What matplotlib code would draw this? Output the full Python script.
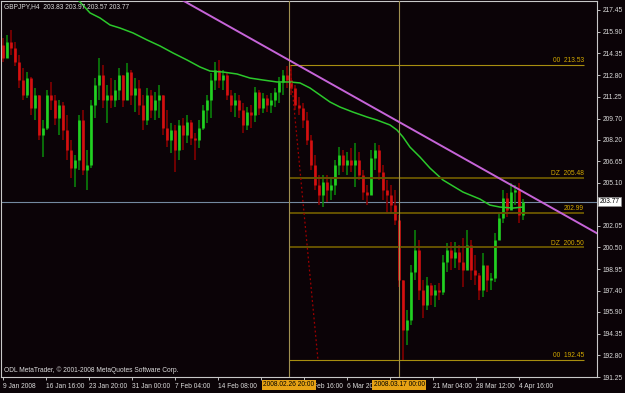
import matplotlib
matplotlib.use("Agg")
import matplotlib.pyplot as plt
import matplotlib.transforms as mtransforms

plt.rcParams['font.family'] = ['Liberation Sans', 'DejaVu Sans']

# GBPJPY H4, each candle here groups 4 H4 bars
BAR_STEP = 4
first_open = 214.95
highs = [215.45, 215.66, 216.02, 215.16, 214.24, 213.31, 213.02, 212.66, 211.88, 211.38,
         209.59, 211.74, 212.31, 211.38, 211.02, 210.88, 209.95, 208.16, 207.09, 209.95,
         210.31, 207.45, 211.02, 212.59, 214.02, 213.52, 212.09, 212.59, 212.45, 213.31,
         212.81, 213.66, 213.16, 212.59, 212.45, 211.38, 211.88, 211.74, 211.59, 212.09,
         211.38, 210.31, 209.38, 209.24, 209.59, 209.74, 209.95, 209.59, 208.66, 209.59,
         210.66, 211.38, 212.95, 213.74, 213.88, 213.16, 213.02, 211.74, 211.52, 211.38,
         210.81, 210.52, 210.66, 211.95, 211.74, 211.52, 211.38, 211.52, 211.88, 212.66,
         213.16, 213.45, 213.53, 212.09, 211.24, 210.81, 210.16, 208.52, 207.09, 205.66,
         205.66, 205.66, 205.45, 206.74, 207.66, 207.45, 207.31, 207.59, 207.95, 207.31,
         206.02, 204.95, 207.45, 207.95, 207.81, 206.38, 205.31, 204.95, 204.59, 202.81,
         198.16, 196.02, 199.24, 201.74, 201.02, 198.16, 198.38, 197.95, 197.81, 197.95,
         199.95, 200.81, 200.88, 200.88, 200.66, 201.16, 201.74, 201.02, 199.95, 198.66,
         200.09, 199.02, 198.66, 201.52, 202.95, 204.59, 204.38, 205.09, 204.95, 205.09,
         203.97]
lows = [213.74, 214.02, 214.24, 213.45, 211.88, 211.02, 211.16, 209.95, 209.59, 208.16,
        206.95, 208.88, 210.31, 209.24, 208.52, 208.16, 206.74, 205.45, 204.81, 206.02,
        205.66, 204.59, 206.20, 209.74, 211.02, 210.45, 209.38, 210.45, 210.52, 211.02,
        210.52, 211.02, 210.66, 210.16, 209.95, 208.88, 209.24, 209.74, 209.59, 209.74,
        208.52, 207.66, 207.24, 205.88, 206.74, 207.45, 207.95, 207.81, 206.74, 207.59,
        208.88, 209.38, 209.74, 211.74, 211.88, 211.74, 211.02, 210.16, 209.81, 209.74,
        208.66, 208.88, 209.02, 209.45, 209.95, 210.09, 210.16, 210.09, 210.52, 210.81,
        211.38, 211.88, 211.38, 210.31, 209.95, 209.02, 207.81, 206.02, 204.59, 203.52,
        203.38, 203.74, 203.88, 204.24, 205.66, 205.88, 205.66, 205.88, 204.81, 205.31,
        203.88, 203.52, 204.24, 206.02, 205.31, 203.88, 202.95, 202.95, 202.09, 197.66,
        192.45, 193.52, 194.95, 198.16, 196.74, 195.45, 196.02, 196.38, 196.24, 196.74,
        197.09, 198.74, 198.88, 199.02, 198.88, 197.66, 199.02, 198.16, 197.81, 196.74,
        196.95, 197.31, 197.45, 198.02, 201.02, 202.24, 202.66, 203.16, 203.52, 202.24,
        202.45]
closes = [214.02, 215.16, 214.74, 213.74, 212.45, 211.38, 212.59, 210.45, 211.38, 208.52,
          209.02, 211.38, 211.02, 209.74, 210.66, 208.88, 207.45, 206.16, 206.74, 209.59,
          206.02, 206.38, 210.66, 212.09, 212.81, 211.02, 211.38, 211.02, 211.74, 212.81,
          211.02, 213.02, 211.38, 211.88, 210.66, 209.59, 211.38, 210.31, 211.02, 211.38,
          209.02, 208.16, 208.88, 207.45, 209.24, 208.52, 209.45, 208.31, 208.16, 209.02,
          210.31, 211.02, 212.45, 213.16, 212.45, 212.81, 211.38, 210.66, 211.02, 210.31,
          209.24, 210.16, 209.95, 211.59, 210.45, 211.16, 210.66, 211.02, 211.59, 212.31,
          212.81, 212.45, 211.88, 210.66, 210.45, 209.59, 208.16, 206.38, 204.95, 204.24,
          205.16, 204.59, 204.95, 206.38, 207.09, 206.38, 206.74, 206.38, 206.74, 205.66,
          204.45, 204.24, 206.88, 207.45, 205.88, 204.59, 204.24, 203.52, 202.45, 198.16,
          194.59, 195.31, 198.74, 200.31, 197.45, 196.38, 197.81, 197.09, 197.45, 197.31,
          199.45, 200.31, 199.74, 200.16, 199.45, 198.88, 200.66, 198.88, 198.52, 197.45,
          199.24, 198.16, 198.31, 201.02, 202.59, 204.02, 203.16, 204.45, 204.59, 202.81,
          203.77]

# moving average (green), positions in H4 bars
ma_bars = [67, 77, 87, 97, 107, 117, 130, 144, 157, 170, 184, 197, 207, 220, 234, 247,
           260, 274, 287, 297, 307, 317, 327, 337, 350, 364, 374, 387, 394, 400, 407, 417,
           427, 440, 460, 477, 487, 497, 510, 520]
ma_values = [218.74, 218.02, 217.24, 216.88, 216.38, 216.16, 215.81, 215.31, 214.88, 214.38,
             213.88, 213.38, 213.09, 213.02, 212.88, 212.59, 212.45, 212.31, 212.31, 212.24,
             211.88, 211.38, 210.88, 210.52, 210.16, 209.81, 209.59, 209.24, 208.88, 208.38,
             207.66, 206.95, 206.16, 205.31, 204.45, 203.95, 203.52, 203.38, 203.31, 203.38]

trend_a = (286, 213.87)
trend_b = (516, 204.64)
fib_start, fib_end = 286, 581
fib_levels = [213.53, 205.48, 202.99, 200.50, 192.45]
fib_labels = ["00  213.53", "DZ  205.48", "202.99", "DZ  200.50", "00  192.45"]
fib_diag_bars = [287, 315]
fib_diag_prices = [213.53, 192.45]
marker_bars = [286, 396]
marker_labels = ["2008.02.26 20:00", "2008.03.17 00:00"]
last_price = 203.77
title = "GBPJPY,H4  203.83 203.97 203.57 203.77"

# labels fully hidden under the highlight boxes are left blank
xtick_bars = [0, 43, 86, 129, 172, 215, 258, 301, 344, 387, 430, 473, 516]
xtick_labels = ["9 Jan 2008", "16 Jan 16:00", "23 Jan 20:00", "31 Jan 00:00", "7 Feb 04:00",
                "14 Feb 08:00", "", "28 Feb 16:00", "6 Mar 20:00", "",
                "21 Mar 04:00", "28 Mar 12:00", "4 Apr 16:00"]
ytick_values = [217.45, 215.90, 214.35, 212.80, 211.25, 209.70, 208.20, 206.65, 205.10,
                203.55, 202.05, 200.50, 198.95, 197.40, 195.90, 194.35, 192.80, 191.25]
ytick_labels = ["" if v == 203.55 else f"{v:.2f}" for v in ytick_values]

BG = "#0b0307"
FG = "#dcdcdc"
FS = 4.8

fig = plt.figure(figsize=(6.25, 3.93), dpi=100, facecolor=BG)
ax = fig.add_axes([1 / 625, 16 / 393, 596 / 625, 376 / 393], facecolor=BG)
ax.set_xlim(-2, 594)
ax.set_ylim(191.25, 218.09)

# candles
opens = [first_open] + closes[:-1]
xs = [i * BAR_STEP for i in range(len(closes))]
for x, o, h, l, c in zip(xs, opens, highs, lows, closes):
    up = c >= o
    wick = "#0a8a0a" if up else "#8c0000"
    body = "#22d022" if up else "#d41010"
    ax.vlines(x, l, h, color=wick, lw=1.1, zorder=2)
    ax.vlines(x, min(o, c), max(o, c), color=body, lw=1.9, zorder=2.1)

ax.plot(ma_bars, ma_values, color="#2bc82b", lw=1.1, zorder=3)

# current price line
ax.axhline(last_price, color="#7489a0", lw=0.8, zorder=1.5)

# fibo
for lvl, lab in zip(fib_levels, fib_labels):
    thick = lab.startswith("DZ") or lab == "202.99"
    ax.hlines(lvl, fib_start, fib_end, color="#655200" if thick else "#a88e10",
              lw=1.4 if thick else 0.8, zorder=3)
    ax.text(fib_end, lvl + 0.06, lab, ha="right", va="bottom", color="#d2a800",
            fontsize=FS, zorder=4)
ax.plot(fib_diag_bars, fib_diag_prices, color="#a00000", lw=0.9, ls=(0, (1.5, 2)), zorder=3)

for b in marker_bars:
    ax.axvline(b, color="#a09050", lw=0.8, zorder=3)

ax.axline(trend_a, trend_b, color="#c664d8", lw=1.4, zorder=3.5)

# axes styling
for s in ax.spines.values():
    s.set_color("#c8c8c8")
    s.set_linewidth(0.8)
ax.yaxis.tick_right()
ax.set_yticks(ytick_values, labels=ytick_labels)
ax.set_xticks(xtick_bars, labels=xtick_labels)
for lbl in ax.get_xticklabels():
    lbl.set_ha("left")
ax.tick_params(axis="both", colors=FG, labelsize=FS, length=2.5, width=0.6, pad=1.5)

# highlighted time labels of the vertical lines
bx = mtransforms.blended_transform_factory(ax.transData, ax.transAxes)
for b, lab in zip(marker_bars, marker_labels):
    ax.text(b, -0.021, lab, transform=bx, ha="center", va="center", fontsize=FS,
            color="black", clip_on=False, zorder=10,
            bbox=dict(boxstyle="square,pad=0.2", fc="#e6a214", ec="none"))

by = mtransforms.blended_transform_factory(ax.transAxes, ax.transData)
ax.text(1.0 + 2.5 / 596, last_price, f"{last_price:.2f}", transform=by, ha="left",
        va="center", fontsize=FS, color="black", clip_on=False, zorder=10,
        bbox=dict(boxstyle="square,pad=0.2", fc="white", ec="#909090", lw=0.5))

fig.text(4 / 625, 1 - 7 / 393, title, ha="left", va="center", color=FG, fontsize=FS)
ax.text(3 / 596, 0.017, "ODL MetaTrader, \u00a9 2001-2008 MetaQuotes Software Corp.",
        transform=ax.transAxes, ha="left", va="center", color=FG, fontsize=FS, zorder=5)

fig.savefig("out.png", dpi=100, facecolor=BG)
